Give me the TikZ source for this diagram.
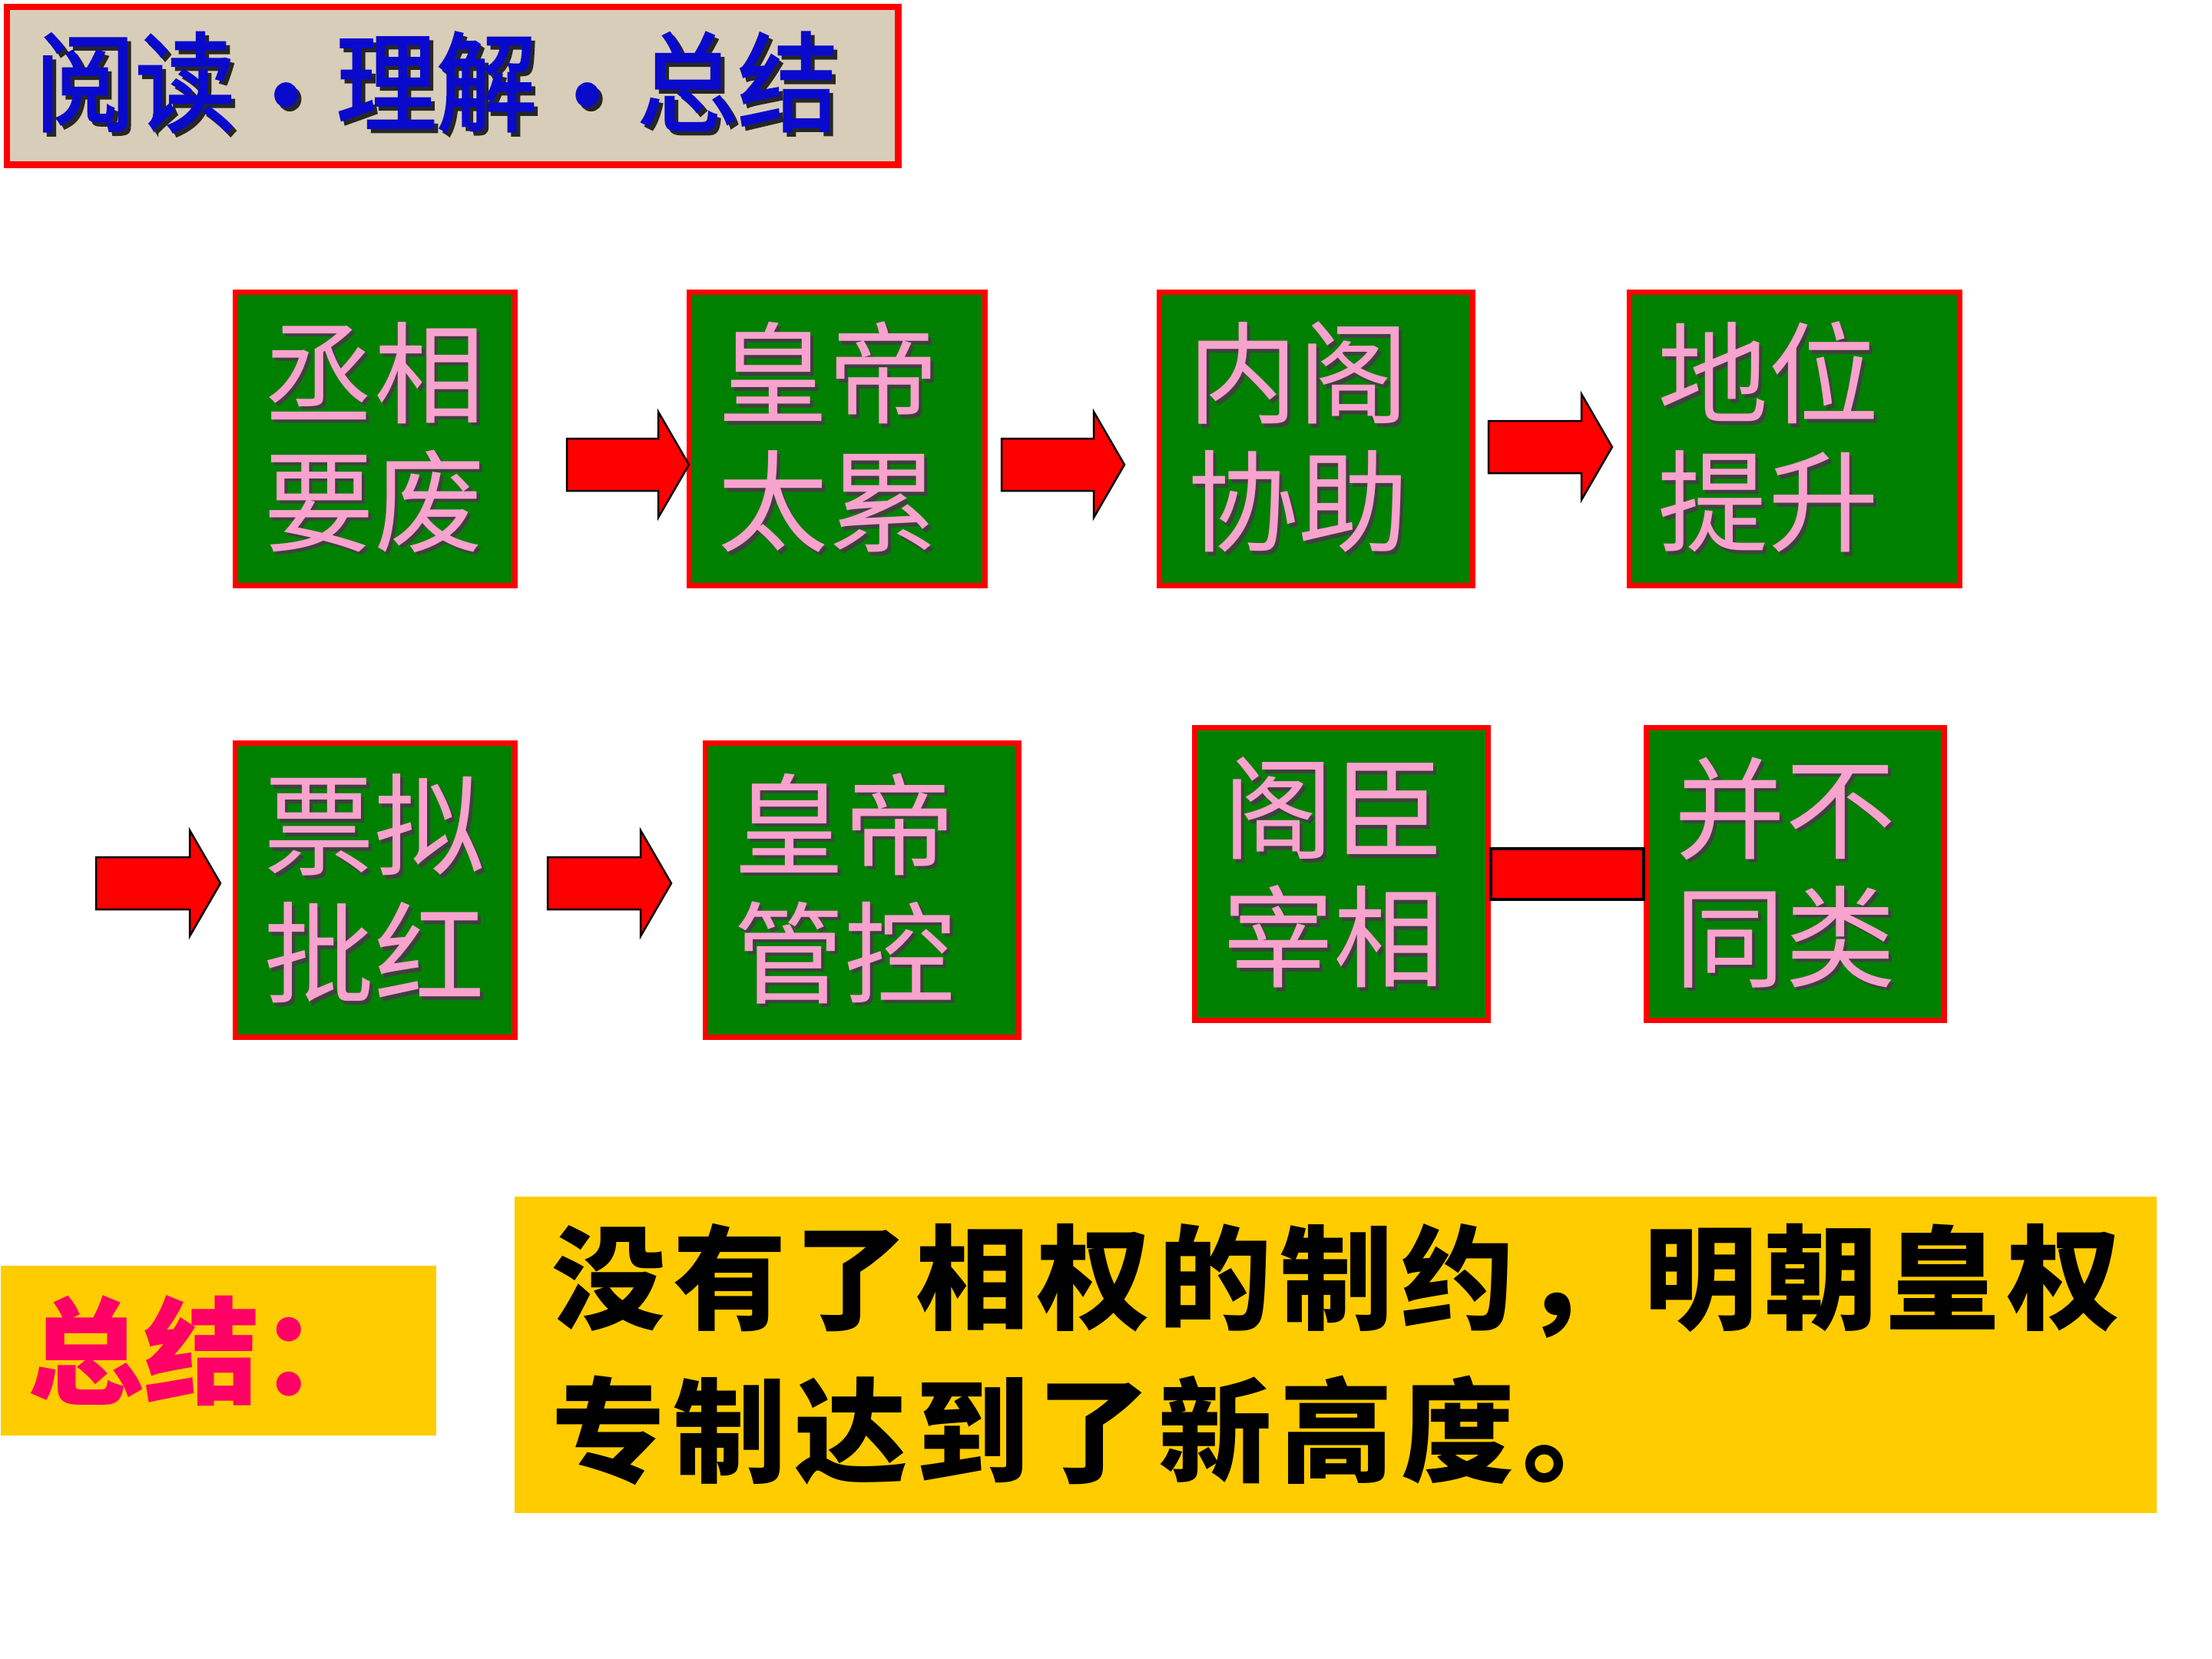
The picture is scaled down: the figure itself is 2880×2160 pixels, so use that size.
\documentclass[tikz,border=0pt]{standalone}
\usepackage{fontspec}
\usepackage{graphicx}
\newfontfamily\cjk{Noto Sans CJK SC}
\newfontfamily\cjktitle[FakeBold=2]{Noto Sans CJK SC}
\newfontfamily\cjkcal[LetterSpace=7]{Noto Sans CJK SC}
\usetikzlibrary{calc}
\definecolor{boxgreen}{RGB}{0,128,0}
\definecolor{boxred}{RGB}{255,0,0}
\definecolor{txtpink}{RGB}{248,162,206}
\definecolor{gold}{RGB}{255,204,0}
\definecolor{hotpink}{RGB}{255,0,102}
\definecolor{titleblue}{RGB}{10,10,205}
\definecolor{paper}{RGB}{216,205,185}
\newcommand\shd[1]{\makebox[0pt][l]{\raisebox{-1.3pt}{\hspace{1.3pt}\textcolor{black!75}{#1}}}#1}
\newcommand\shdt[1]{\makebox[0pt][l]{\raisebox{-1.5pt}{\hspace{1.5pt}\textcolor{black!85}{#1}}}#1}
\newcommand\fatarrow[2]{\filldraw[fatarr] let \p1=(#1), \p2=(#2) in
  (\x1,\y1+3.4mm) -- (\x2-4mm,\y1+3.4mm) -- (\x2-4mm,\y1+6.9mm) -- (\x2,\y1)
  -- (\x2-4mm,\y1-6.9mm) -- (\x2-4mm,\y1-3.4mm) -- (\x1,\y1-3.4mm) -- cycle;}
\begin{document}
\begin{tikzpicture}[x=0.1mm,y=-0.1mm,
  stepbox/.style={draw=boxred, line width=0.7mm, fill=boxgreen, rectangle,
    inner xsep=3.65mm, inner ysep=0pt, text=txtpink, align=left,
    font=\cjk\fontsize{41pt}{47.5pt}\selectfont},
  fatarr/.style={fill=red, draw=black, line width=0.25mm, line join=miter},
  bar/.style={fill=red, draw=black, line width=0.35mm}]
\useasboundingbox (0,0) rectangle (2880,2160);
\fill[white] (0,0) rectangle (2880,2160);

% title
\node[draw=boxred, line width=0.9mm, fill=paper, anchor=north west,
  minimum width=116.1mm, minimum height=20.6mm, inner xsep=3.65mm, inner ysep=0pt,
  text width=108.8mm, align=left, text=titleblue,
  font=\cjktitle\fontsize{40pt}{45pt}\selectfont] (title) at (4.5,4.5)
  {\scalebox{0.93}[1]{\shdt{阅读\raisebox{-0.12em}{・}理解\raisebox{-0.12em}{・}总结}}};

% boxes row 1
\node[stepbox, minimum width=36.4mm, minimum height=38.2mm, text width=29.1mm] (b1) at (488.5,571.5) {\shd{丞相}\\\shd{要废}};
\node[stepbox, minimum width=38.5mm, minimum height=38.2mm, text width=31.2mm] (b2) at (1090,571.5) {\shd{皇帝}\\\shd{太累}};
\node[stepbox, minimum width=40.8mm, minimum height=38.2mm, text width=33.5mm] (b3) at (1713.5,571.5) {\shd{内阁}\\\shd{协助}};
\node[stepbox, minimum width=43.0mm, minimum height=38.2mm, text width=35.7mm] (b4) at (2336.5,571.5) {\shd{地位}\\\shd{提升}};
% boxes row 2
\node[stepbox, minimum width=36.4mm, minimum height=38.3mm, text width=29.1mm] (b5) at (488.5,1159) {\shd{票拟}\\\shd{批红}};
\node[stepbox, minimum width=40.8mm, minimum height=38.3mm, text width=33.5mm] (b6) at (1122.5,1159) {\shd{皇帝}\\\shd{管控}};
\node[stepbox, minimum width=38.2mm, minimum height=38.1mm, text width=30.9mm] (b7) at (1746.5,1138) {\shd{阁臣}\\\shd{宰相}};
\node[stepbox, minimum width=38.8mm, minimum height=38.1mm, text width=31.5mm] (b8) at (2337.5,1138) {\shd{并不}\\\shd{同类}};

% arrows
\coordinate (a1s) at (738,605);  \coordinate (a1e) at (897,605);
\coordinate (a2s) at (1304,605); \coordinate (a2e) at (1464,605);
\coordinate (a3s) at (1938,582); \coordinate (a3e) at (2099,582);
\coordinate (a4s) at (125,1150); \coordinate (a4e) at (287,1150);
\coordinate (a5s) at (713,1150); \coordinate (a5e) at (874,1150);
\fatarrow{a1s}{a1e}
\fatarrow{a2s}{a2e}
\fatarrow{a3s}{a3e}
\fatarrow{a4s}{a4e}
\fatarrow{a5s}{a5e}
\filldraw[bar] ($(b7.east)+(0,-33)$) rectangle ($(b8.west)+(0,33)$);

% summary
\node[fill=gold, anchor=north west, minimum width=56.7mm, minimum height=22.1mm,
  inner xsep=3.6mm, inner ysep=0pt, text width=49.5mm, align=left, text=hotpink,
  font=\cjk\bfseries\fontsize{43pt}{50pt}\selectfont] (sumlabel) at (0,1647) {总结：};
\node[fill=gold, anchor=north west, minimum width=213.8mm, minimum height=41.2mm,
  inner xsep=4.7mm, inner ysep=0pt, text width=204mm, align=left, text=black,
  font=\cjkcal\bfseries\fontsize{42pt}{56.6pt}\selectfont] (summary) at (669,1557)
  {没有了相权的制约，明朝皇权\\专制达到了新高度。};
\end{tikzpicture}
\end{document}
